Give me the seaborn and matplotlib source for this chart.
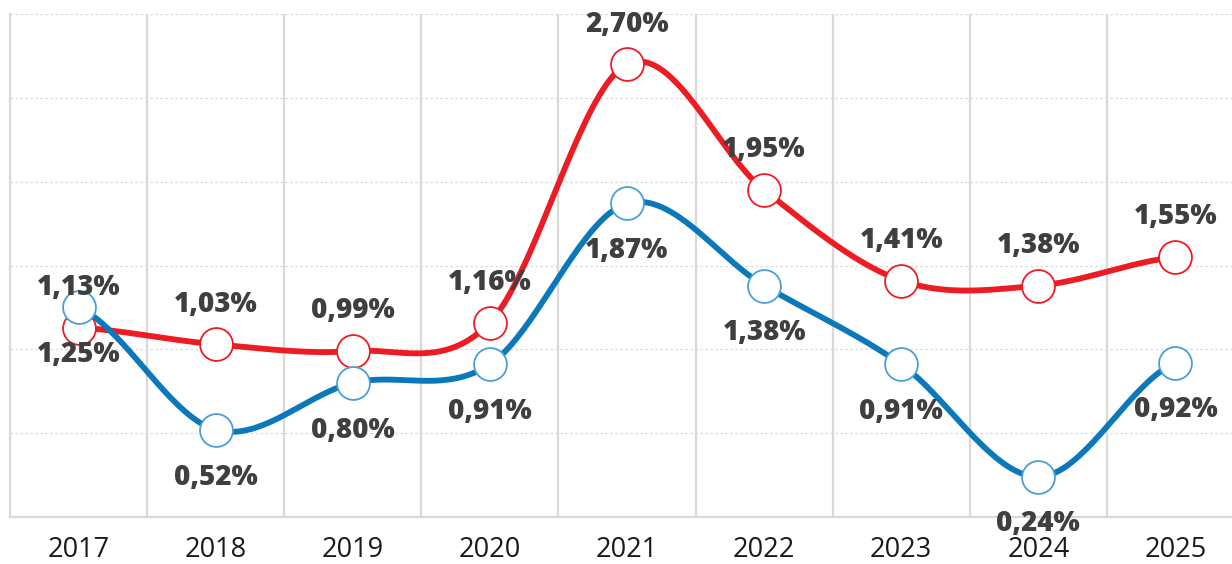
import numpy as np
import pandas as pd
import matplotlib
matplotlib.use('Agg')
import matplotlib.pyplot as plt
import seaborn as sns

# Data
years = ['2017', '2018', '2019', '2020', '2021', '2022', '2023', '2024', '2025']
red_vals = [1.13, 1.03, 0.99, 1.16, 2.70, 1.95, 1.41, 1.38, 1.55]
blue_vals = [1.25, 0.52, 0.80, 0.91, 1.87, 1.38, 0.91, 0.24, 0.92]

RED = '#ED1C24'
BLUE = '#0A78B9'
BLUE_EDGE = '#4A9FD6'
TEXT = '#3F3F3F'
GRID = '#D9D9D9'


def smooth(y, n=40):
    # Catmull-Rom spline through the points (like a smoothed Excel line)
    y = np.asarray(y, dtype=float)
    p = np.concatenate([[y[0]], y, [y[-1]]])
    xs, ys = [], []
    for i in range(len(y) - 1):
        p0, p1, p2, p3 = p[i], p[i + 1], p[i + 2], p[i + 3]
        t = np.linspace(0, 1, n, endpoint=False)
        yy = 0.5 * (2 * p1 + (-p0 + p2) * t + (2 * p0 - 5 * p1 + 4 * p2 - p3) * t ** 2
                    + (-p0 + 3 * p1 - 3 * p2 + p3) * t ** 3)
        xs.append(i + t)
        ys.append(yy)
    xs.append([len(y) - 1])
    ys.append([y[-1]])
    return np.concatenate(xs), np.concatenate(ys)


sns.set_style('white')
plt.rcParams['font.family'] = ['Open Sans', 'DejaVu Sans']

fig = plt.figure(figsize=(12.32, 5.64), dpi=100)
ax = fig.add_axes([10 / 1232, 47 / 564, 1234 / 1232, 503 / 564])

x = np.arange(len(years))

for vals, col, edge in [(red_vals, RED, RED), (blue_vals, BLUE, BLUE_EDGE)]:
    sx, sy = smooth(vals)
    sns.lineplot(x=sx, y=sy, color=col, lw=4.2, ax=ax, zorder=3, sort=False)
    sns.scatterplot(x=x, y=vals, s=560, color='white', edgecolor=edge,
                    linewidth=1.3, ax=ax, zorder=4)

# value labels: red above, blue below
for xi, v in zip(x, red_vals):
    ax.annotate(f'{v:.2f}%'.replace('.', ','), (xi, v), xytext=(0, 29),
                textcoords='offset points', ha='center', va='center',
                fontsize=20, fontweight=800, color=TEXT, zorder=5)
for xi, v in zip(x, blue_vals):
    ax.annotate(f'{v:.2f}%'.replace('.', ','), (xi, v), xytext=(0, -34),
                textcoords='offset points', ha='center', va='center',
                fontsize=20, fontweight=800, color=TEXT, zorder=5)

ax.set_xlim(-0.5, 8.5)
ax.set_ylim(0, 3)

ax.set_xticks(x)
ax.set_xticklabels(years, fontsize=19.5, color='#1a1a1a')
ax.set_xticks(np.arange(-0.5, 9, 1), minor=True)
ax.set_yticks(np.arange(0, 3.01, 0.5))
ax.set_yticklabels([])

ax.grid(False)
ax.grid(axis='x', which='minor', color=GRID, lw=1.6, zorder=0)
ax.grid(axis='y', which='major', color=GRID, lw=0.9, ls=(0, (2, 2)), zorder=0)
ax.tick_params(axis='both', which='both', length=0)
ax.tick_params(axis='x', which='major', pad=14)

for s in ['top', 'right']:
    ax.spines[s].set_visible(False)
for s in ['left', 'bottom']:
    ax.spines[s].set_color(GRID)
    ax.spines[s].set_linewidth(1.6)

ax.set_xlabel('')
ax.set_ylabel('')

fig.savefig('out.png', dpi=100)
